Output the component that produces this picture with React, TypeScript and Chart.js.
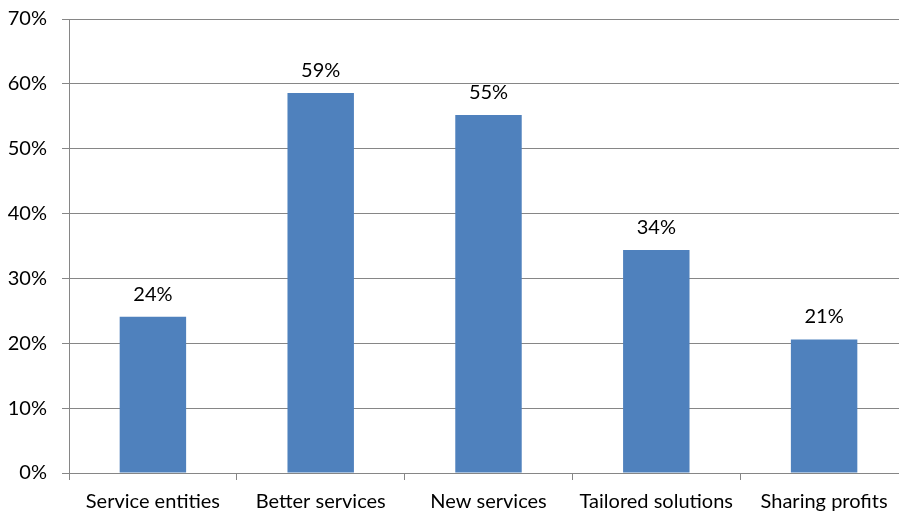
import React, { useEffect, useRef } from "react";
import { Chart, registerables } from "chart.js";

Chart.register(...registerables);

const categories = ["Service entities", "Better services", "New services", "Tailored solutions", "Sharing profits"];
const values = [24.1, 58.6, 55.2, 34.4, 20.6];
const valueLabels = ["24%", "59%", "55%", "34%", "21%"];
const yTicks = [0, 10, 20, 30, 40, 50, 60, 70];

const FONT = "Lato, 'Open Sans', sans-serif";
const FONT_SIZE = 20;

const dataLabelPlugin = {
  id: "dataLabels",
  afterDatasetsDraw(chart: any) {
    const ctx = chart.ctx;
    const meta = chart.getDatasetMeta(0);
    ctx.save();
    ctx.font = `${FONT_SIZE}px ${FONT}`;
    ctx.fillStyle = "#000";
    ctx.textAlign = "center";
    ctx.textBaseline = "alphabetic";
    meta.data.forEach((el: any, i: number) => {
      ctx.fillText(valueLabels[i], el.x, el.y - 16);
    });
    ctx.restore();
  },
};

export default function App() {
  const ref = useRef<HTMLCanvasElement>(null);
  useEffect(() => {
    if (!ref.current) return;
    const chart = new Chart(ref.current, {
      type: "bar",
      data: {
        labels: categories,
        datasets: [
          {
            data: values,
            backgroundColor: "#4F81BD",
            borderWidth: 0,
            categoryPercentage: 0.396,
            barPercentage: 1,
          },
        ],
      },
      options: {
        responsive: false,
        animation: false,
        layout: { padding: { top: 19, left: 0, right: 0, bottom: 0 } },
        plugins: { legend: { display: false }, tooltip: { enabled: false } },
        scales: {
          x: {
            afterFit: (s: any) => {
              s.height = 41;
              s.paddingLeft = 0;
              s.paddingRight = 0;
            },
            grid: {
              display: true,
              drawOnChartArea: false,
              offset: true,
              tickLength: 7,
              color: "#868686",
            },
            border: { color: "#868686", width: 1 },
            ticks: {
              color: "#000",
              font: { family: FONT, size: FONT_SIZE },
              padding: 10,
              maxRotation: 0,
              autoSkip: false,
            },
          },
          y: {
            min: 0,
            max: 70,
            afterFit: (s: any) => {
              s.width = 69;
              s.paddingTop = 0;
              s.paddingBottom = 0;
            },
            afterBuildTicks: (s: any) => {
              s.ticks = yTicks.map((v) => ({ value: v }));
            },
            grid: { color: "#868686", tickLength: 7 },
            border: { color: "#868686", width: 1 },
            ticks: {
              color: "#000",
              font: { family: FONT, size: FONT_SIZE },
              padding: 15,
              callback: (v: any) => `${v}%`,
            },
          },
        },
      },
      plugins: [dataLabelPlugin],
    });
    return () => chart.destroy();
  }, []);
  return (
    <div style={{ position: "absolute", left: 0, top: 0, width: 899, height: 514, overflow: "hidden", background: "#fff" }}>
      <canvas ref={ref} width={908} height={514} />
    </div>
  );
}
